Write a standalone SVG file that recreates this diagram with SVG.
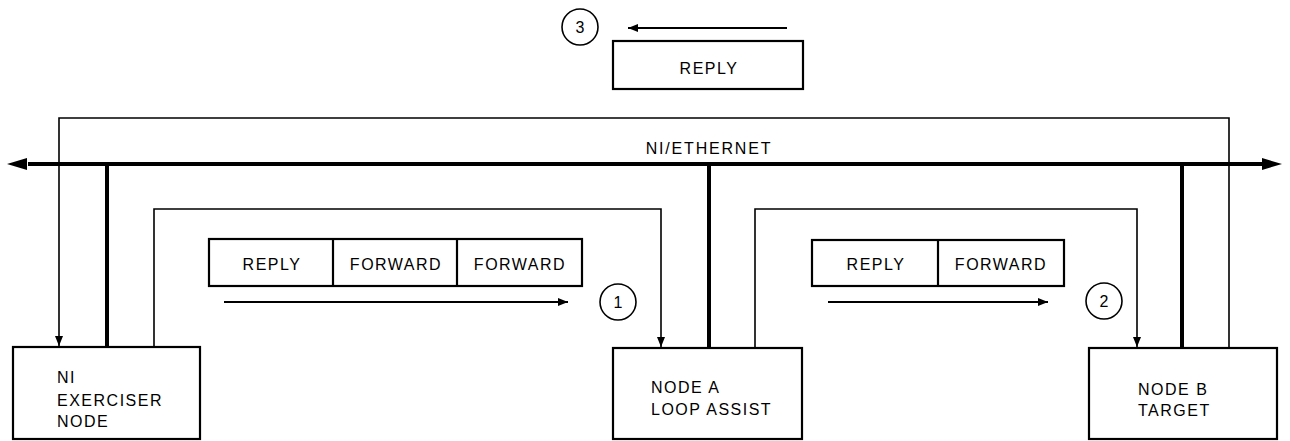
<svg xmlns="http://www.w3.org/2000/svg" width="1290" height="441" viewBox="0 0 1290 441">
<style>
  text { font-family: "Liberation Sans", Arial, sans-serif; font-size: 16px; fill: #000; letter-spacing: 1.5px; }
  .box { fill: #fff; stroke: #000; stroke-width: 2.2; }
  .thin { fill: none; stroke: #000; stroke-width: 1.6; }
  .thick { fill: none; stroke: #000; stroke-width: 4; }
  .mid { fill: none; stroke: #000; stroke-width: 2.2; }
  .circ { fill: #fff; stroke: #000; stroke-width: 1.6; }
  .c { text-anchor: middle; }
</style>
<defs>
  <marker id="ah" markerWidth="10" markerHeight="8" refX="10" refY="4" orient="auto" markerUnits="userSpaceOnUse">
    <path d="M0,0 L10,4 L0,8 Z" fill="#000"/>
  </marker>
  <marker id="ahBig" markerWidth="20" markerHeight="12" refX="20" refY="6" orient="auto" markerUnits="userSpaceOnUse">
    <path d="M0,0 L20,6 L0,12 Z" fill="#000"/>
  </marker>
</defs>
<rect width="1290" height="441" fill="#fff"/>

<g id="connectors">
  <!-- Ethernet bus -->
  <line class="thick" x1="28" y1="164" x2="1262" y2="164"/>
  <path d="M27,158 L7,164 L27,170 Z" fill="#000"/>
  <path d="M1262,158 L1282,164 L1262,170 Z" fill="#000"/>
  <!-- drops -->
  <line class="thick" x1="107" y1="164" x2="107" y2="348"/>
  <line class="thick" x1="709" y1="164" x2="709" y2="349"/>
  <line class="thick" x1="1182" y1="164" x2="1182" y2="349"/>
  <!-- outer loop: Node B to exerciser -->
  <path class="thin" d="M1229,348 L1229,118 L59,118 L59,346" marker-end="url(#ah)"/>
  <!-- inner loop: exerciser to Node A -->
  <path class="thin" d="M154,347 L154,209 L661,209 L661,347" marker-end="url(#ah)"/>
  <!-- inner loop: Node A to Node B -->
  <path class="thin" d="M755,348 L755,209 L1137,209 L1137,347" marker-end="url(#ah)"/>
  <!-- direction arrows -->
  <line class="mid" x1="787" y1="28" x2="628" y2="28" marker-end="url(#ah)"/>
  <line class="mid" x1="224" y1="302" x2="568" y2="302" marker-end="url(#ah)"/>
  <line class="mid" x1="828" y1="302" x2="1048" y2="302" marker-end="url(#ah)"/>
</g>

<g id="ethernet-label">
  <text x="709" y="154" class="c" style="letter-spacing:1.8px">NI/ETHERNET</text>
</g>

<g id="reply-msg">
  <rect class="box" x="613" y="41" width="190" height="48"/>
  <text x="709" y="74" class="c">REPLY</text>
</g>

<g id="step3">
  <circle class="circ" cx="580" cy="27" r="18"/>
  <text x="580" y="33" class="c" style="letter-spacing:0">3</text>
</g>

<g id="msg1">
  <rect class="box" x="209" y="239" width="373" height="47"/>
  <line class="mid" x1="333" y1="239" x2="333" y2="286"/>
  <line class="mid" x1="457" y1="239" x2="457" y2="286"/>
  <text x="272" y="270" class="c">REPLY</text>
  <text x="396" y="270" class="c">FORWARD</text>
  <text x="520" y="270" class="c">FORWARD</text>
</g>

<g id="step1">
  <circle class="circ" cx="618" cy="302" r="18"/>
  <text x="618" y="308" class="c" style="letter-spacing:0">1</text>
</g>

<g id="msg2">
  <rect class="box" x="812" y="240" width="252" height="46"/>
  <line class="mid" x1="938" y1="240" x2="938" y2="286"/>
  <text x="876" y="270" class="c">REPLY</text>
  <text x="1001" y="270" class="c">FORWARD</text>
</g>

<g id="step2">
  <circle class="circ" cx="1104" cy="301" r="18"/>
  <text x="1104" y="307" class="c" style="letter-spacing:0">2</text>
</g>

<g id="node-exerciser">
  <rect class="box" x="13" y="347" width="187" height="92"/>
  <text x="57" y="383">NI</text>
  <text x="57" y="406">EXERCISER</text>
  <text x="57" y="427">NODE</text>
</g>

<g id="node-a">
  <rect class="box" x="613" y="348" width="189" height="91"/>
  <text x="651" y="393">NODE A</text>
  <text x="651" y="415">LOOP ASSIST</text>
</g>

<g id="node-b">
  <rect class="box" x="1089" y="348" width="188" height="91"/>
  <text x="1138" y="395">NODE B</text>
  <text x="1138" y="416">TARGET</text>
</g>
</svg>
